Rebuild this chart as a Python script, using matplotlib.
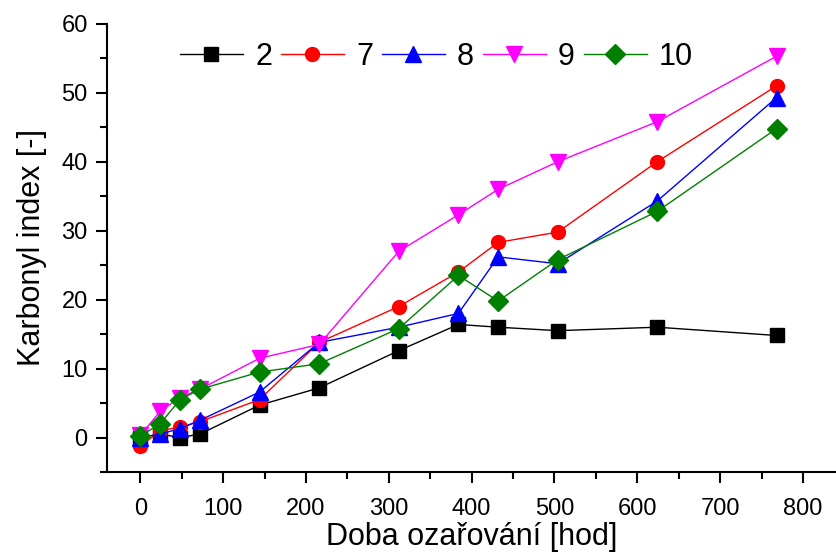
import numpy as np
import matplotlib
matplotlib.use("Agg")
import matplotlib.pyplot as plt
from matplotlib.ticker import MultipleLocator

plt.rcParams["font.family"] = ["Liberation Sans", "DejaVu Sans"]

hours = [0, 24, 48, 72, 144, 216, 312, 384, 432, 504, 624, 768]
s2 = [0.0, 0.5, 0.0, 0.5, 4.7, 7.2, 12.6, 16.4, 16.0, 15.5, 16.0, 14.8]
s7 = [-1.3, 1.0, 1.5, 2.3, 5.5, 13.8, 19.0, 24.0, 28.3, 29.8, 40.0, 51.0]
s8 = [0.0, 0.5, 1.3, 2.5, 6.6, 13.8, 16.0, 18.0, 26.2, 25.2, 34.3, 49.3]
s9 = [0.3, 3.8, 5.8, 7.0, 11.5, 13.5, 27.0, 32.3, 36.0, 40.0, 45.8, 55.3]
s10 = [0.2, 2.0, 5.5, 7.0, 9.5, 10.7, 15.8, 23.5, 19.8, 25.8, 32.8, 44.8]

labels = ["2", "7", "8", "9", "10"]
series = [s2, s7, s8, s9, s10]
colors = ["black", "red", "blue", "magenta", "green"]
markers = ["s", "o", "^", "v", "D"]
msizes = [9.5, 10, 11, 11, 10]

fig = plt.figure(figsize=(8.37, 5.54), dpi=100)
ax = fig.add_axes([0.128, 0.148, 0.871, 0.809])

for lab, ys, c, m, ms in zip(labels, series, colors, markers, msizes):
    ax.plot(hours, ys, color=c, marker=m, markersize=ms, linewidth=1.0,
            markeredgecolor=c, label=lab)

ax.set_xlim(-40, 840)
ax.set_ylim(-5, 60)
ax.xaxis.set_major_locator(MultipleLocator(100))
ax.xaxis.set_minor_locator(MultipleLocator(50))
ax.yaxis.set_major_locator(MultipleLocator(10))
ax.yaxis.set_minor_locator(MultipleLocator(5))
ax.spines["top"].set_visible(False)
ax.spines["right"].set_visible(False)
for sp in ("left", "bottom"):
    ax.spines[sp].set_linewidth(1.5)
ax.tick_params(which="major", direction="out", length=8, width=1.5, labelsize=17)
ax.tick_params(axis="x", which="major", pad=11)
ax.tick_params(axis="y", which="major", pad=6)
ax.tick_params(which="minor", direction="out", length=5, width=1.5)

ax.set_xlabel("Doba ozařování [hod]", fontsize=22, labelpad=1)
ax.set_ylabel("Karbonyl index [-]", fontsize=22, labelpad=10)

ax.legend(loc="upper left", bbox_to_anchor=(0.075, 1.0), ncol=5, frameon=False,
          fontsize=22, handlelength=2.05, handletextpad=0.4, columnspacing=0.3,
          borderaxespad=0.2)

fig.savefig("out.png", dpi=100)
